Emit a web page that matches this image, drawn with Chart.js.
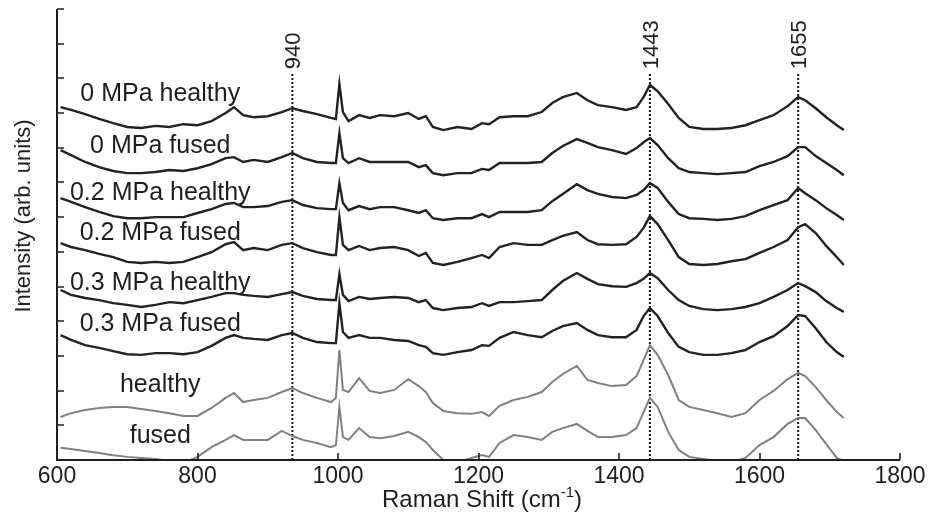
<!DOCTYPE html>
<html>
<head>
<meta charset="utf-8">
<script src="https://cdn.jsdelivr.net/npm/chart.js@4.4.1/dist/chart.umd.min.js"></script>
<style>
  html, body { margin: 0; padding: 0; background: #fff; }
  #wrap { width: 930px; height: 519px; position: relative; }
</style>
</head>
<body>
<div id="wrap"><canvas id="spectra"></canvas></div>
<script>
// Raman shift grid (cm-1), shared by all spectra
const wavenumber = [605, 620, 640, 660, 680, 700, 720, 740, 760, 780,
  800, 820, 840, 852, 865, 880, 900, 920, 935, 950,
  970, 990, 997, 1002, 1007, 1015, 1030, 1045, 1060, 1080,
  1100, 1115, 1125, 1135, 1150, 1170, 1190, 1205, 1215, 1230,
  1250, 1270, 1290, 1305, 1320, 1340, 1355, 1370, 1390, 1410,
  1425, 1435, 1444, 1455, 1470, 1485, 1500, 1520, 1540, 1560,
  1580, 1600, 1620, 1640, 1655, 1665, 1680, 1695, 1710, 1720]

// stacked intensities (arb. units)
const mpa0Healthy = [10.17, 10.09, 9.97, 9.83, 9.71, 9.60, 9.57, 9.63, 9.60, 9.68,
  9.65, 9.77, 10.00, 10.17, 9.94, 9.88, 9.91, 10.03, 10.14, 10.06,
  9.97, 9.86, 9.83, 10.84, 10.03, 9.77, 9.94, 9.86, 9.94, 9.91,
  10.00, 9.83, 9.91, 9.60, 9.51, 9.60, 9.54, 9.71, 9.68, 9.88,
  9.91, 9.91, 10.03, 10.29, 10.46, 10.58, 10.37, 10.23, 10.17, 10.09,
  10.17, 10.46, 10.81, 10.63, 10.26, 9.86, 9.60, 9.54, 9.54, 9.57,
  9.65, 9.80, 9.94, 10.20, 10.46, 10.37, 10.14, 9.88, 9.65, 9.51]
const mpa0Fused = [8.93, 8.79, 8.59, 8.44, 8.33, 8.27, 8.27, 8.30, 8.36, 8.33,
  8.41, 8.53, 8.70, 8.73, 8.59, 8.65, 8.59, 8.73, 8.85, 8.70,
  8.59, 8.56, 8.56, 9.42, 8.70, 8.56, 8.70, 8.59, 8.59, 8.59,
  8.59, 8.44, 8.50, 8.27, 8.21, 8.27, 8.27, 8.39, 8.36, 8.56,
  8.56, 8.56, 8.59, 8.85, 9.05, 9.25, 9.14, 9.02, 8.93, 8.82,
  8.99, 9.16, 9.28, 9.08, 8.70, 8.41, 8.30, 8.27, 8.24, 8.27,
  8.30, 8.47, 8.59, 8.76, 9.02, 9.02, 8.76, 8.56, 8.36, 8.21]
const mpa02Healthy = [7.55, 7.44, 7.29, 7.15, 7.03, 6.97, 6.97, 7.00, 7.00, 7.00,
  7.12, 7.23, 7.38, 7.41, 7.29, 7.29, 7.32, 7.44, 7.49, 7.35,
  7.26, 7.23, 7.23, 7.98, 7.41, 7.20, 7.32, 7.23, 7.29, 7.29,
  7.20, 7.12, 7.20, 6.97, 6.92, 6.97, 6.97, 7.09, 7.00, 7.15,
  7.15, 7.15, 7.20, 7.46, 7.67, 7.95, 7.78, 7.67, 7.58, 7.55,
  7.64, 7.78, 7.98, 7.84, 7.44, 7.09, 6.97, 6.95, 6.92, 6.95,
  7.03, 7.20, 7.35, 7.49, 7.84, 7.69, 7.49, 7.26, 7.06, 6.92]
const mpa02Fused = [6.25, 6.14, 6.05, 5.94, 5.85, 5.71, 5.68, 5.71, 5.68, 5.71,
  5.85, 5.99, 6.22, 6.28, 6.05, 6.11, 6.05, 6.20, 6.25, 6.11,
  5.99, 5.91, 5.91, 7.00, 6.20, 6.05, 6.17, 6.05, 6.11, 6.14,
  6.05, 5.88, 5.97, 5.68, 5.62, 5.71, 5.82, 5.91, 5.82, 6.14,
  6.25, 6.20, 6.20, 6.34, 6.46, 6.57, 6.34, 6.22, 6.20, 6.22,
  6.43, 6.69, 7.03, 6.80, 6.34, 5.85, 5.65, 5.62, 5.65, 5.73,
  5.79, 5.97, 6.14, 6.34, 6.71, 6.80, 6.54, 6.17, 5.85, 5.62]
const mpa03Healthy = [4.90, 4.76, 4.67, 4.61, 4.52, 4.47, 4.41, 4.47, 4.55, 4.52,
  4.61, 4.70, 4.81, 4.81, 4.76, 4.73, 4.70, 4.78, 4.84, 4.73,
  4.64, 4.61, 4.61, 5.36, 4.76, 4.58, 4.70, 4.64, 4.67, 4.70,
  4.67, 4.55, 4.61, 4.38, 4.32, 4.38, 4.41, 4.52, 4.44, 4.55,
  4.55, 4.58, 4.61, 4.90, 5.16, 5.39, 5.22, 5.07, 5.01, 4.99,
  5.10, 5.22, 5.39, 5.24, 4.90, 4.61, 4.44, 4.35, 4.32, 4.35,
  4.41, 4.52, 4.70, 4.90, 5.10, 5.01, 4.84, 4.58, 4.38, 4.27]
const mpa03Fused = [3.60, 3.46, 3.31, 3.23, 3.14, 3.05, 3.03, 3.08, 3.08, 3.05,
  3.11, 3.29, 3.52, 3.60, 3.52, 3.49, 3.46, 3.60, 3.66, 3.52,
  3.40, 3.37, 3.37, 4.52, 3.69, 3.52, 3.60, 3.52, 3.52, 3.46,
  3.43, 3.31, 3.26, 3.08, 3.03, 3.11, 3.17, 3.31, 3.29, 3.52,
  3.69, 3.60, 3.54, 3.72, 3.86, 3.95, 3.75, 3.60, 3.54, 3.54,
  3.75, 4.15, 4.38, 4.15, 3.66, 3.26, 3.11, 3.03, 3.03, 3.08,
  3.17, 3.40, 3.57, 3.86, 4.18, 4.15, 3.80, 3.40, 3.11, 2.97]
const healthy = [1.24, 1.35, 1.44, 1.50, 1.53, 1.53, 1.47, 1.41, 1.35, 1.27,
  1.27, 1.50, 1.79, 1.93, 1.67, 1.73, 1.79, 1.96, 2.07, 1.93,
  1.79, 1.67, 1.79, 3.17, 2.02, 1.96, 2.36, 1.99, 1.93, 2.02,
  2.33, 2.13, 1.96, 1.64, 1.41, 1.35, 1.33, 1.38, 1.27, 1.56,
  1.73, 1.82, 1.96, 2.25, 2.48, 2.71, 2.31, 2.22, 2.13, 2.16,
  2.42, 2.88, 3.31, 3.03, 2.45, 1.73, 1.53, 1.44, 1.35, 1.24,
  1.35, 1.73, 1.99, 2.33, 2.51, 2.42, 2.10, 1.73, 1.38, 1.21]
const fused = [0.35, 0.32, 0.26, 0.20, 0.14, 0.09, 0.06, 0.03, -0.03, -0.09,
  0.09, 0.37, 0.58, 0.72, 0.58, 0.58, 0.58, 0.84, 0.69, 0.58,
  0.49, 0.37, 0.43, 1.53, 0.66, 0.58, 0.92, 0.66, 0.63, 0.69,
  0.81, 0.66, 0.52, 0.29, 0.00, -0.06, 0.06, 0.14, 0.09, 0.49,
  0.72, 0.66, 0.58, 0.81, 0.92, 1.04, 0.84, 0.66, 0.66, 0.72,
  0.92, 1.38, 1.79, 1.53, 0.81, 0.29, 0.09, 0.03, -0.03, -0.06,
  0.06, 0.43, 0.66, 1.04, 1.21, 1.21, 0.86, 0.46, 0.06, -0.03]

const spectra = [mpa0Healthy, mpa0Fused, mpa02Healthy, mpa02Fused, mpa03Healthy, mpa03Fused, healthy, fused]
const spectrumNames = ['0 MPa healthy', '0 MPa fused', '0.2 MPa healthy', '0.2 MPa fused',
  '0.3 MPa healthy', '0.3 MPa fused', 'healthy', 'fused']
const nameX = 747
const nameY = [10.35, 8.85, 7.49, 6.34, 4.90, 3.72, 1.96, 0.49]

// peak markers (dotted lines drawn where they sit in the figure)
const peakPos = [935, 1444, 1655]
const peakLabels = ['940', '1443', '1655']
const peakTop = 11.18

const xTickLabels = ['600', '800', '1000', '1200', '1400', '1600', '1800']

const FONT = "'Liberation Sans', Arial, Helvetica, sans-serif"
const INK = '#1e1e1e'

const datasets = spectra.map((vals, i) => ({
  label: spectrumNames[i],
  data: wavenumber.map((w, j) => ({ x: w, y: vals[j] })),
  borderColor: i < 6 ? '#222' : '#808080',
  borderWidth: i < 6 ? 2.4 : 2,
  pointRadius: 0,
  tension: 0,
  fill: false
}))
peakPos.forEach((p, i) => {
  datasets.push({
    label: 'peak ' + peakLabels[i],
    data: [{ x: p, y: 0 }, { x: p, y: peakTop }],
    borderColor: '#111',
    borderWidth: 2,
    borderDash: [2, 2],
    pointRadius: 0,
    fill: false
  })
})

// axes with inward ticks, titles, curve names and peak labels
const framePlugin = {
  id: 'frame',
  afterDraw(chart) {
    const { ctx, chartArea: a, scales: { x, y } } = chart
    ctx.save()
    ctx.strokeStyle = INK
    ctx.fillStyle = INK
    ctx.lineWidth = 2
    ctx.beginPath()
    ctx.moveTo(a.left, a.top)
    ctx.lineTo(a.left, a.bottom)
    ctx.lineTo(a.right, a.bottom)
    ctx.stroke()

    ctx.lineWidth = 1.6
    ctx.beginPath()
    y.ticks.forEach(t => {
      const py = Math.round(y.getPixelForValue(t.value))
      ctx.moveTo(a.left, py)
      ctx.lineTo(a.left + 7, py)
    })
    x.ticks.forEach(t => {
      const px = Math.round(x.getPixelForValue(t.value))
      ctx.moveTo(px, a.bottom)
      ctx.lineTo(px, a.bottom - 7)
    })
    ctx.stroke()

    ctx.font = '23px ' + FONT
    ctx.textAlign = 'center'
    ctx.textBaseline = 'alphabetic'
    x.ticks.forEach((t, i) => {
      ctx.fillText(xTickLabels[i], x.getPixelForValue(t.value), a.bottom + 23)
    })

    // x title with superscript
    const main = 'Raman Shift (cm'
    const sup = '-1'
    ctx.font = '24px ' + FONT
    const wMain = ctx.measureText(main).width
    const wClose = ctx.measureText(')').width
    ctx.font = '15px ' + FONT
    const wSup = ctx.measureText(sup).width
    const sx = 482 - (wMain + wSup + wClose) / 2
    ctx.textAlign = 'left'
    ctx.font = '24px ' + FONT
    ctx.fillText(main, sx, a.bottom + 47)
    ctx.font = '15px ' + FONT
    ctx.fillText(sup, sx + wMain, a.bottom + 37)
    ctx.font = '24px ' + FONT
    ctx.fillText(')', sx + wMain + wSup, a.bottom + 47)

    // y title
    ctx.save()
    ctx.translate(30, 216)
    ctx.rotate(-Math.PI / 2)
    ctx.textAlign = 'center'
    ctx.font = '22px ' + FONT
    ctx.fillText('Intensity (arb. units)', 0, 0)
    ctx.restore()

    // curve names
    ctx.font = '25px ' + FONT
    ctx.textAlign = 'center'
    spectrumNames.forEach((n, i) => {
      ctx.fillText(n, x.getPixelForValue(nameX), y.getPixelForValue(nameY[i]))
    })

    // peak labels, rotated
    ctx.font = '22px ' + FONT
    peakPos.forEach((p, i) => {
      ctx.save()
      ctx.translate(x.getPixelForValue(p) + 8, y.getPixelForValue(peakTop) - 3)
      ctx.rotate(-Math.PI / 2)
      ctx.textAlign = 'left'
      ctx.fillText(peakLabels[i], 0, 0)
      ctx.restore()
    })
    ctx.restore()
  }
}

new Chart(document.getElementById('spectra'), {
  type: 'line',
  data: { datasets },
  options: {
    responsive: true,
    maintainAspectRatio: false,
    animation: false,
    layout: { padding: { left: 57, right: 30, top: 9, bottom: 59 } },
    scales: {
      x: { type: 'linear', min: 600, max: 1800, display: false, ticks: { stepSize: 200 } },
      y: { type: 'linear', min: 0, max: 13, display: false, ticks: { stepSize: 1 } }
    },
    plugins: {
      legend: { display: false },
      tooltip: { enabled: false }
    }
  },
  plugins: [framePlugin]
})
</script>
</body>
</html>
